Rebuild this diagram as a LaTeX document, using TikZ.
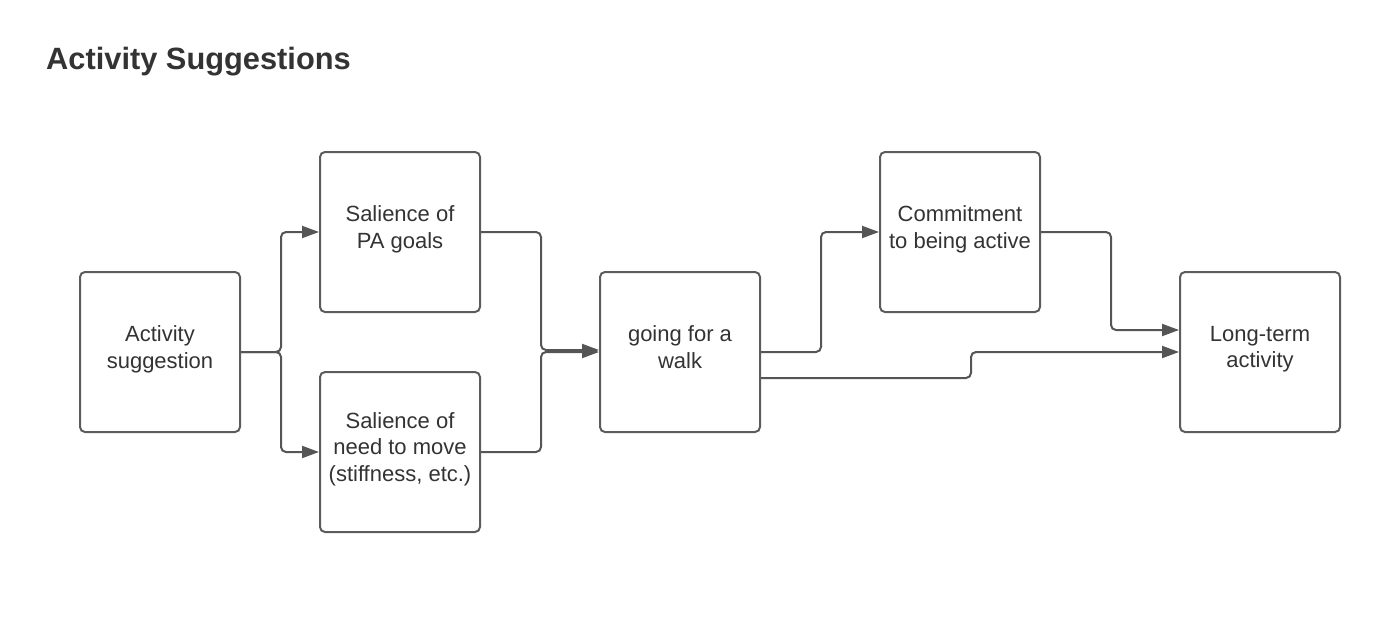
\documentclass[tikz,border=0pt]{standalone}
\usepackage{fontspec}
\setmainfont{Liberation Sans}
\usetikzlibrary{arrows.meta}
\definecolor{boxline}{HTML}{5C5C5C}
\definecolor{txt}{HTML}{333333}
\definecolor{conline}{HTML}{555555}
\tikzset{
  box/.style={draw=boxline, line width=2pt, rounded corners=5pt, minimum width=160pt, minimum height=160pt, inner sep=0pt, align=center, text=txt, font=\fontsize{22}{26.5}\selectfont, execute at end node={\rule[-10pt]{0pt}{10pt}}},
  conn/.style={draw=conline, line width=2pt, rounded corners=5pt, -{Triangle[length=17pt,width=12pt]}},
}
\begin{document}
\begin{tikzpicture}[x=1pt,y=-1pt]
\useasboundingbox (0,0) rectangle (1380,626);
\node[anchor=base west, text=txt, font=\bfseries\fontsize{30.8}{36}\selectfont, inner sep=0pt] (title) at (46,70) {Activity Suggestions};
\node[box] (as) at (160,352) {Activity\\suggestion};
\node[box] (pa) at (400,232) {Salience of\\PA goals};
\node[box] (nm) at (400,452) {Salience of\\need to move\\(stiffness, etc.)};
\node[box] (w) at (680,352) {going for a\\walk};
\node[box] (cm) at (960,232) {Commitment\\to being active};
\node[box] (lt) at (1260,352) {Long-term\\activity};
\draw[conn] (as.east) -- ++(40,0) |- (pa.west);
\draw[conn] (as.east) -- ++(40,0) |- (nm.west);
\draw[conn] (pa.east) -- ++(60,0) |- ([yshift=2pt]w.west);
\draw[conn] (nm.east) -- ++(60,0) |- (w.west);
\draw[conn] (w.east) -- ++(60,0) |- (cm.west);
\draw[conn] (cm.east) -- ++(70,0) |- ([yshift=22pt]lt.west);
\draw[conn] ([yshift=-26pt]w.east) -- ++(210,0) |- (lt.west);
\end{tikzpicture}
\end{document}
